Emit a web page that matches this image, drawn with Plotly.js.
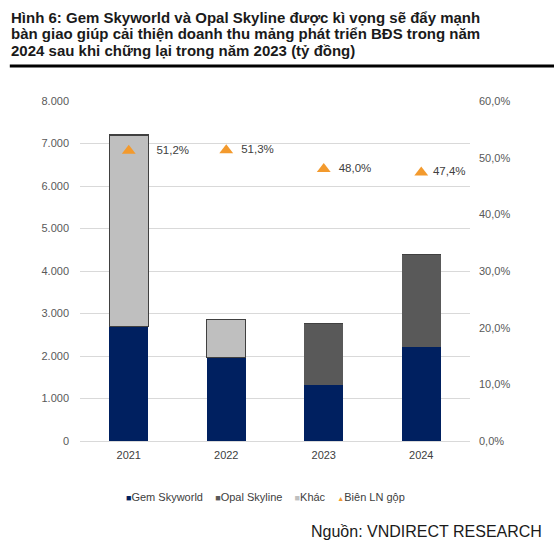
<!DOCTYPE html>
<html>
<head>
<meta charset="utf-8">
<script src="https://cdn.plot.ly/plotly-3.0.1.min.js"></script>
<style>html,body{margin:0;padding:0;background:#fff;}#chart{width:554px;height:544px;}</style>
</head>
<body>
<div id="chart"></div>
<script>
var years = ['2021', '2022', '2023', '2024'];
var gemSkyworld = [2690, 1960, 1310, 2210];
var opalSkyline = [0, 0, 1450, 2170];
var khac = [4510, 890, 0, 0];
var bienLNGop = [0.512, 0.513, 0.480, 0.474];
var bienLabels = ['51,2%', '51,3%', '48,0%', '47,4%'];
var seriesNames = ['Gem Skyworld', 'Opal Skyline', 'Khác', 'Biên LN gộp'];
var titleLines = [
  'Hình 6: Gem Skyworld và Opal Skyline được kì vọng sẽ đẩy mạnh',
  'bàn giao giúp cải thiện doanh thu mảng phát triển BĐS trong năm',
  '2024 sau khi chững lại trong năm 2023 (tỷ đồng)'
];
var sourceText = 'Nguồn: VNDIRECT RESEARCH';

var FONT = '"Liberation Sans", Arial, sans-serif';
var colors = ['#002060', '#595959', '#bfbfbf', '#F39A2D'];
var NB = '\u00a0';

var traces = [
  {type: 'bar', name: seriesNames[0], x: years, y: gemSkyworld,
   marker: {color: colors[0], line: {width: 0}}, hoverinfo: 'skip'},
  {type: 'bar', name: seriesNames[1], x: years, y: opalSkyline,
   marker: {color: colors[1], line: {width: 0}}, hoverinfo: 'skip'},
  {type: 'bar', name: seriesNames[2], x: years, y: khac,
   marker: {color: colors[2], line: {width: 1.2, color: '#404040'}}, hoverinfo: 'skip'},
  {type: 'scatter', name: seriesNames[3], x: years, y: bienLNGop, yaxis: 'y2',
   mode: 'markers+text', text: bienLabels,
   texttemplate: [NB + NB + NB + NB + NB + NB + '%{text}', NB + NB + '%{text}', NB + NB + '%{text}', NB + '%{text}'],
   textposition: 'middle right',
   textfont: {family: FONT, size: 11.5, color: '#404040'},
   marker: {symbol: 'triangle-up', size: 12, color: colors[3]}, hoverinfo: 'skip'}
];

var annotations = [];
var ty = [1.247, 1.199, 1.150];
for (var i = 0; i < titleLines.length; i++) {
  annotations.push({text: '<b>' + titleLines[i] + '</b>', xref: 'paper', yref: 'paper',
    x: -0.182, y: ty[i], xanchor: 'left', yanchor: 'middle', showarrow: false,
    font: {family: FONT, size: 15, color: '#1a1a1a'}});
}
annotations.push({text: sourceText, xref: 'paper', yref: 'paper', x: 1.19, y: -0.265,
  xanchor: 'right', yanchor: 'middle', showarrow: false,
  font: {family: FONT, size: 16, color: '#1a1a1a'}});

// legend drawn as one text line
var sym = ['■', '■', '■', '▲'];
var symSize = [9, 9, 9, 7];
var legParts = [];
for (var k = 0; k < seriesNames.length; k++) {
  legParts.push('<span style="color:' + colors[k] + ';font-size:' + symSize[k] + 'px">' + sym[k] +
    '</span>' + seriesNames[k]);
}
annotations.push({text: legParts.join(NB + NB + NB + NB), xref: 'paper', yref: 'paper',
  x: 0.476, y: -0.165, xanchor: 'center', yanchor: 'middle', showarrow: false,
  font: {family: FONT, size: 11, color: '#404040'}});

var layout = {
  width: 554, height: 544,
  margin: {l: 80, r: 84, t: 101, b: 103},
  paper_bgcolor: '#ffffff', plot_bgcolor: '#ffffff',
  separators: ',.',
  barmode: 'stack', bargap: 0.6,
  font: {family: FONT, color: '#595959', size: 11},
  showlegend: false,
  xaxis: {type: 'category', showgrid: false, zeroline: false, showline: false,
    ticks: '', ticklabelstandoff: 6, tickfont: {family: FONT, size: 11, color: '#404040'}},
  yaxis: {range: [0, 8000], dtick: 1000, tickformat: ',d', showgrid: true,
    gridcolor: '#d9d9d9', gridwidth: 1, zeroline: true, zerolinecolor: '#d9d9d9',
    showline: false, ticks: '', ticklabelstandoff: 10,
    tickfont: {family: FONT, size: 11, color: '#595959'}},
  yaxis2: {range: [0, 0.6], dtick: 0.1, tickformat: '.1%', overlaying: 'y', side: 'right',
    showgrid: false, zeroline: false, showline: false, ticks: '', ticklabelstandoff: 8,
    tickfont: {family: FONT, size: 11, color: '#595959'}},
  shapes: [{type: 'line', xref: 'paper', yref: 'paper', x0: -0.18, x1: 1.22, y0: 1.103, y1: 1.103,
    line: {color: '#000000', width: 3}}],
  annotations: annotations
};

Plotly.newPlot('chart', traces, layout, {displayModeBar: false, staticPlot: true});
</script>
</body>
</html>
